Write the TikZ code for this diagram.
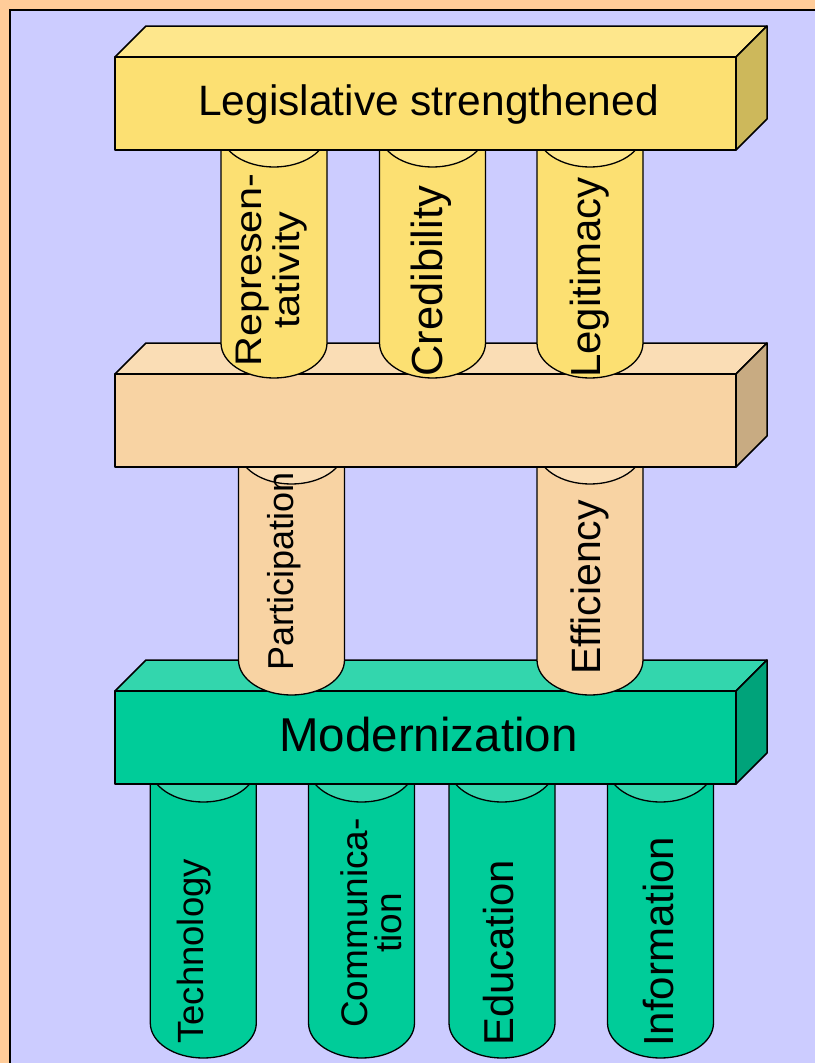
\documentclass[tikz,border=0pt]{standalone}
\usepackage{fontspec}
\setmainfont{Liberation Sans}
\definecolor{framepeach}{HTML}{FFCC99}
\definecolor{sky}{HTML}{CCCCFF}
\definecolor{yelF}{HTML}{FCE072}
\definecolor{yelT}{HTML}{FEE78C}
\definecolor{yelS}{HTML}{CDB85B}
\definecolor{pchF}{HTML}{F8D3A3}
\definecolor{pchT}{HTML}{FADDB5}
\definecolor{pchS}{HTML}{C8AB82}
\definecolor{grnF}{HTML}{00CC99}
\definecolor{grnT}{HTML}{33D6AD}
\definecolor{grnS}{HTML}{00A37A}
\tikzset{
  edge/.style={draw=black, line width=1.5pt, line join=round},
  pedge/.style={draw=black, line width=1.3pt, line join=round},
  lab/.style={inner sep=0pt, text=black},
}
% slab: #1 = y of the front top edge, #2 = colour prefix
\newcommand{\drawslab}[2]{%
  \filldraw[edge, fill=#2T] (115,#1) -- (146,{#1-31}) -- (767,{#1-31}) -- (736,#1) -- cycle;
  \filldraw[edge, fill=#2S] (736,#1) -- (767,{#1-31}) -- (767,{#1+62}) -- (736,{#1+93}) -- cycle;
  \filldraw[edge, fill=#2F] (115,#1) rectangle (736,{#1+93});
}
% pillar: #1 = centre x, #2 = top centre y, #3 = bottom centre y, #4 = colour prefix
\newcommand{\drawpillar}[4]{%
  \filldraw[pedge, fill=#4F] ({#1-53},#2) -- ({#1-53},#3)
    arc[start angle=180, end angle=0, x radius=53, y radius=35] -- ({#1+53},#2) -- cycle;
  \filldraw[pedge, fill=#4T] (#1,#2) ellipse[x radius=53, y radius=35];
}
\newcommand{\wide}[1]{\scalebox{1.12}[1]{#1}}
\begin{document}
\begin{tikzpicture}[x=1pt, y=-1pt]
\useasboundingbox (0,0) rectangle (814,1063);
% backdrop with the peach margin on the left and top
\fill[sky] (-5,-5) rectangle (830,1080);
\fill[framepeach] (-5,-5) rectangle (10,1080);
\fill[framepeach] (-5,-5) rectangle (830,9.7);
\draw[black, line width=1.8pt] (10,1080) -- (10,9.7) -- (830,9.7);

% base level: four green pillars under the modernization slab
\drawpillar{203.3}{767}{1023}{grn}
\drawpillar{361.5}{767}{1023}{grn}
\drawpillar{502}{767}{1023}{grn}
\drawpillar{660.5}{767}{1023}{grn}
\node[lab, font=\fontsize{36.5}{40}\selectfont, rotate=90, anchor=base west] (technology) at (203,1044) {Technology};
\node[lab, font=\fontsize{37}{34}\selectfont, rotate=90, align=center] (communication) at (370.8,923) {Communica-\\tion};
\node[lab, font=\fontsize{41.8}{45}\selectfont, rotate=90, anchor=base west] (education) at (513,1046) {Education};
\node[lab, font=\fontsize{42}{46}\selectfont, rotate=90, anchor=base west] (information) at (673,1047) {Information};

\drawslab{691}{grn}
\node[lab, font=\fontsize{47.5}{52}\selectfont, anchor=base] (modernization) at (428.5,751) {Modernization};

% middle level
\drawpillar{291.5}{449}{660}{pch}
\drawpillar{590}{449}{660}{pch}
\node[lab, font=\fontsize{36}{40}\selectfont, rotate=90, anchor=base west] (participation) at (293,671) {Participation};
\node[lab, font=\fontsize{41}{45}\selectfont, rotate=90, anchor=base west] (efficiency) at (600,675) {Efficiency};

\drawslab{374}{pch}

% upper level
\drawpillar{274}{132}{343}{yel}
\drawpillar{432.5}{132}{343}{yel}
\drawpillar{590}{132}{343}{yel}
\node[lab, font=\fontsize{37}{38}\selectfont, rotate=90, align=center] (representativity) at (271.7,270) {\wide{Represen-}\\\wide{tativity}};
\node[lab, font=\fontsize{43.5}{46}\selectfont, rotate=90, anchor=base west] (credibility) at (442,377) {Credibility};
\node[lab, font=\fontsize{42}{46}\selectfont, rotate=90, anchor=base west] (legitimacy) at (600,378) {Legitimacy};

\drawslab{57}{yel}
\node[lab, font=\fontsize{42.5}{46}\selectfont, anchor=base] (legislative) at (428.5,115) {Legislative strengthened};
\end{tikzpicture}
\end{document}
